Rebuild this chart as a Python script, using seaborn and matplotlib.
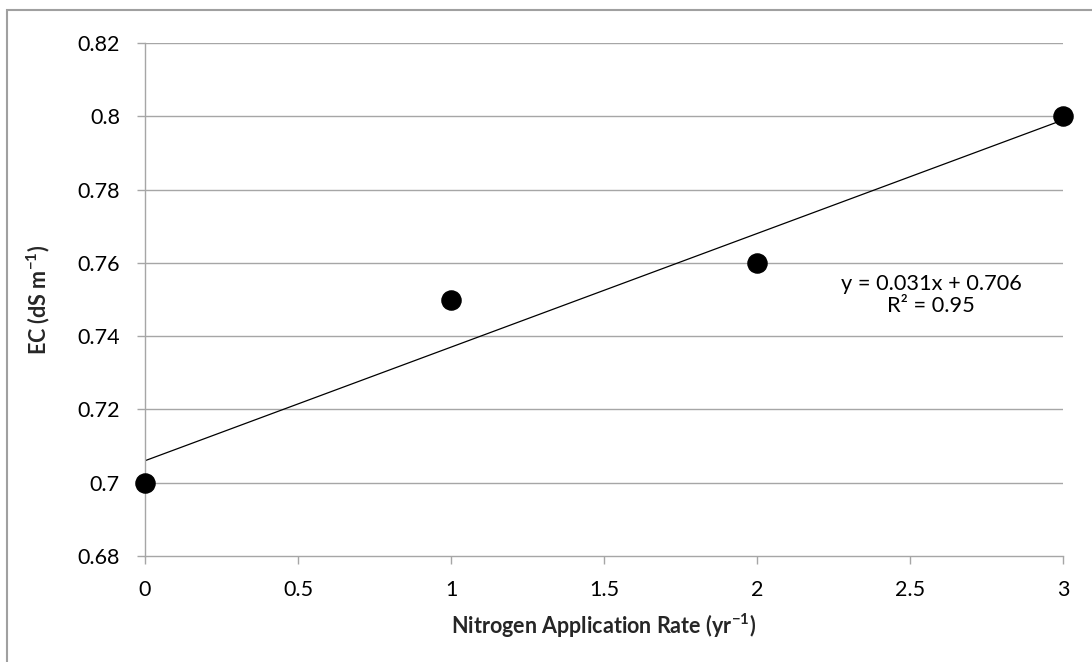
import matplotlib
matplotlib.use("Agg")
import matplotlib.pyplot as plt
import seaborn as sns
import numpy as np
import pandas as pd
from matplotlib.patches import Rectangle

# Data
n_rate = [0, 1, 2, 3]
ec_values = [0.70, 0.75, 0.76, 0.80]
x_ticks = [0, 0.5, 1, 1.5, 2, 2.5, 3]
y_ticks = [0.68, 0.70, 0.72, 0.74, 0.76, 0.78, 0.80, 0.82]
y_tick_labels = ["0.68", "0.7", "0.72", "0.74", "0.76", "0.78", "0.8", "0.82"]

df = pd.DataFrame({"rate": n_rate, "ec": ec_values})

sns.set_theme(style="white")
plt.rcParams["font.family"] = ["Lato", "DejaVu Sans"]
plt.rcParams["mathtext.fontset"] = "custom"
plt.rcParams["mathtext.rm"] = "Lato"
plt.rcParams["mathtext.bf"] = "Lato:bold"
plt.rcParams["axes.unicode_minus"] = False

fig = plt.figure(figsize=(10.92, 6.62), dpi=100)
ax = fig.add_axes([145 / 1092, 106 / 662, 918 / 1092, 513 / 662])

grid_col = "#a6a6a6"
for yv in y_ticks[1:]:
    ax.axhline(yv, color=grid_col, lw=1.0, zorder=0)

sns.regplot(data=df, x="rate", y="ec", ax=ax, ci=None,
            scatter_kws=dict(s=190, color="black", edgecolor="black", zorder=3,
                             alpha=1, clip_on=False),
            line_kws=dict(color="black", lw=0.9, zorder=2))

# linear fit for annotation
slope, intercept = np.polyfit(n_rate, ec_values, 1)
pred = np.polyval([slope, intercept], n_rate)
ss_res = np.sum((np.array(ec_values) - pred) ** 2)
ss_tot = np.sum((np.array(ec_values) - np.mean(ec_values)) ** 2)
r2 = 1 - ss_res / ss_tot
ax.text(2.57, 0.7513, f"y = {slope:.3f}x + {intercept:.3f}\nR² = {r2:.2f}",
        ha="center", va="center", fontsize=15.7, linespacing=1.1, color="black")

ax.set_xlim(0, 3)
ax.set_ylim(0.68, 0.82)
ax.set_xticks(x_ticks)
ax.set_xticklabels([f"{v:g}" for v in x_ticks])
ax.set_yticks(y_ticks)
ax.set_yticklabels(y_tick_labels)
ax.tick_params(axis="both", which="major", direction="out", length=6, width=1,
               color=grid_col, labelsize=15.5, labelcolor="black", pad=12,
               bottom=True, left=True)
ax.tick_params(axis="x", pad=11)

for side in ["top", "right"]:
    ax.spines[side].set_visible(False)
for side in ["left", "bottom"]:
    ax.spines[side].set_color(grid_col)
    ax.spines[side].set_linewidth(1.0)
ax.margins(0)

ax.set_xlabel(r"Nitrogen Application Rate (yr$^{\mathbf{-1}}$)", fontsize=15.5,
              fontweight="bold", labelpad=9)
ax.set_ylabel(r"EC (dS m$^{\mathbf{-1}}$)", fontsize=15.5, fontweight="bold", labelpad=18)
ax.patch.set_alpha(0)

# chart frame
fig.patches.append(Rectangle((7 / 1092, -0.1), 1.2, (652 / 662) + 0.1,
                             transform=fig.transFigure, fill=False,
                             edgecolor="#a0a0a0", lw=1.5, zorder=-1))

fig.savefig("out.png", dpi=100)
